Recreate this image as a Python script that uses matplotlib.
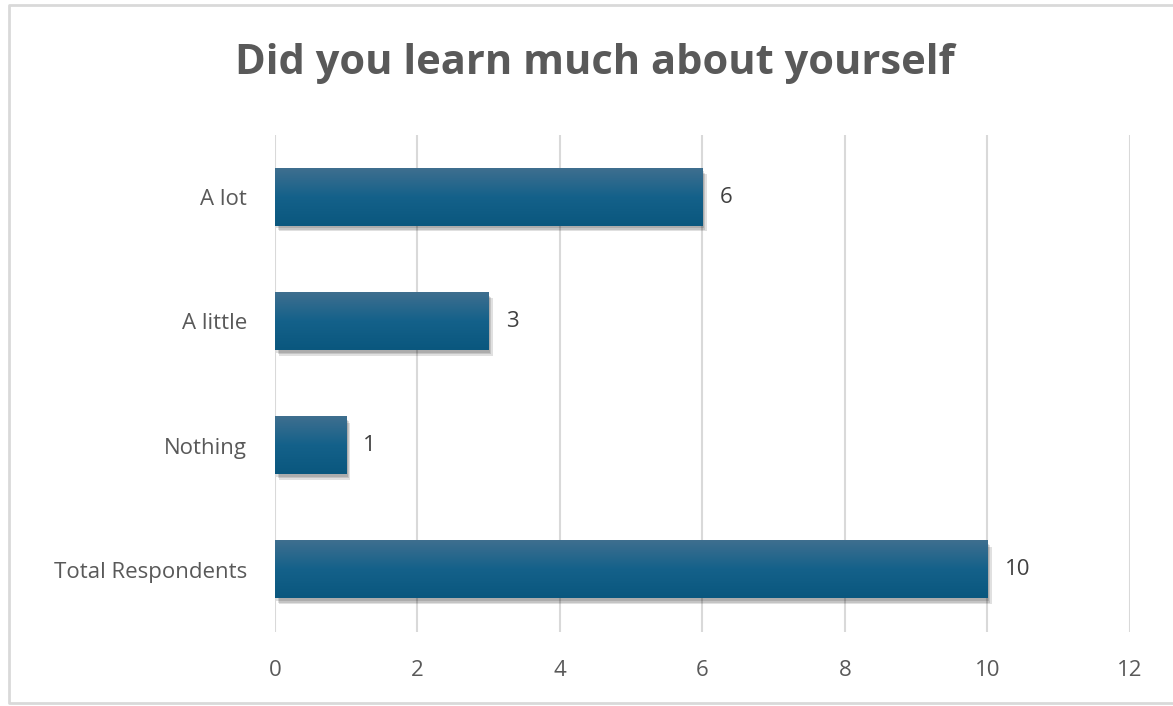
import numpy as np
import matplotlib.pyplot as plt
from matplotlib.lines import Line2D
import matplotlib.patheffects as pe
from matplotlib.colors import LinearSegmentedColormap

categories = ["A lot", "A little", "Nothing", "Total Respondents"]
values = [6, 3, 1, 10]
xticks = [0, 2, 4, 6, 8, 10, 12]

plt.rcParams['font.family'] = ['Open Sans', 'DejaVu Sans']

fig = plt.figure(figsize=(11.73, 7.06), dpi=100)
ax = fig.add_axes([0.2344, 0.1048, 0.7289, 0.704])

# Rand um das Diagramm (rechts abgeschnitten)
fig.lines.append(Line2D([1.0, 0.0075, 0.0075, 1.0], [0.993, 0.993, 0.004, 0.004],
                        transform=fig.transFigure, color='#d9d9d9', linewidth=2))

y = np.arange(len(categories))
shadow = [pe.SimplePatchShadow(offset=(o, -o - 1), shadow_rgbFace='#000000', alpha=0.12)
          for o in (1, 2, 3)]
bars = ax.barh(y, values, height=0.46, color='#15618a', zorder=3,
               path_effects=shadow + [pe.Normal()])

# Farbverlauf oben hell, unten dunkel
cmap = LinearSegmentedColormap.from_list('bar', ['#3f6f8f', '#14618a', '#0a577e'])
grad = np.linspace(0, 1, 256).reshape(-1, 1)
for b in bars:
    x0, y0, w, h = b.get_x(), b.get_y(), b.get_width(), b.get_height()
    ax.imshow(grad, cmap=cmap, aspect='auto', zorder=4,
              extent=(x0, x0 + w, y0 + h, y0), origin='upper')

for yi, v in zip(y, values):
    ax.text(v + 0.24, yi, str(v), va='center', ha='left', fontsize=16, color='#404040')

ax.set_xlim(0, 12)
ax.set_ylim(len(categories) - 0.5, -0.5)
ax.set_xticks(xticks)
ax.set_yticks(y)
ax.set_yticklabels(categories)
ax.grid(axis='x', color='#d9d9d9', linewidth=1.5, zorder=0)
ax.set_axisbelow(True)
for s in ax.spines.values():
    s.set_visible(False)
ax.tick_params(length=0, labelsize=16, labelcolor='#595959')
ax.tick_params(axis='x', pad=20)
ax.tick_params(axis='y', pad=20)

fig.text(0.507, 0.91, "Did you learn much about yourself", ha='center', va='center',
         fontsize=30, fontweight='bold', color='#595959')

fig.savefig('out.png', dpi=100)
